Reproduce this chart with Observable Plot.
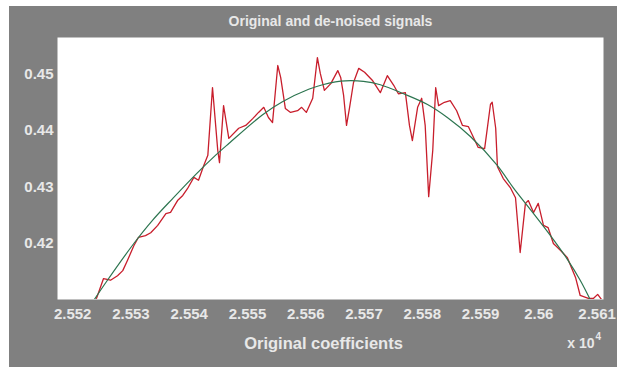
<!DOCTYPE html>
<html>
<head>
<meta charset="utf-8">
<script src="https://cdn.jsdelivr.net/npm/d3@7"></script>
<script src="https://cdn.jsdelivr.net/npm/@observablehq/plot@0.6"></script>
<style>
  html, body { margin: 0; padding: 0; background: #ffffff; }
  #fig { position: absolute; left: 9px; top: 6px; width: 608px; height: 361px; background: #808080; }
</style>
</head>
<body>
<div id="fig"></div>
<script>
// Tick positions and their printed labels (axis shown in units of 10^4)
const xTicks = [25520, 25530, 25540, 25550, 25560, 25570, 25580, 25590, 25600, 25610];
const xTickLabels = ["2.552", "2.553", "2.554", "2.555", "2.556", "2.557", "2.558", "2.559", "2.56", "2.561"];
const yTicks = [0.42, 0.43, 0.44, 0.45];
const yTickLabels = ["0.42", "0.43", "0.44", "0.45"];

// Original (noisy) signal
const noisyX = [
  25524.1, 25525.3, 25526.5, 25527.7, 25528.6, 25529.4, 25530.5, 25531.3, 25532.5, 25533.4,
  25534.6, 25536.0, 25536.8, 25538.0, 25538.9, 25539.7, 25540.8, 25541.6, 25542.5, 25543.2,
  25544.0, 25544.9, 25545.2, 25545.9, 25546.8, 25548.5, 25549.7, 25550.9, 25551.9, 25552.8,
  25553.6, 25554.3, 25555.2, 25555.7, 25556.5, 25557.4, 25558.6, 25559.3, 25560.1, 25561.2,
  25562.0, 25562.5, 25563.2, 25564.3, 25565.5, 25566.0, 25566.5, 25567.0, 25567.5, 25568.2,
  25569.1, 25570.1, 25571.5, 25572.8, 25574.0, 25575.1, 25575.9, 25577.1, 25577.8, 25578.3,
  25579.2, 25579.9, 25580.5, 25581.1, 25581.8, 25582.3, 25582.8, 25583.8, 25584.8, 25585.9,
  25586.9, 25587.9, 25589.6, 25590.7, 25591.7, 25592.0, 25592.6, 25592.9, 25593.9, 25595.1,
  25596.0, 25596.8, 25597.7, 25598.2, 25599.1, 25599.9, 25600.8, 25601.6, 25602.5, 25603.7,
  25604.9, 25606.3, 25607.1, 25608.5, 25609.4, 25610.1, 25610.9
];
const noisyY = [
  0.4103, 0.4138, 0.4135, 0.4143, 0.4152, 0.4170, 0.4196, 0.4211, 0.4214, 0.4219,
  0.4232, 0.4253, 0.4255, 0.4276, 0.4285, 0.4297, 0.4317, 0.4312, 0.4338, 0.4356,
  0.4476, 0.4365, 0.4343, 0.4444, 0.4386, 0.4404, 0.4409, 0.4421, 0.4432, 0.4441,
  0.4423, 0.4414, 0.4515, 0.4494, 0.4439, 0.4432, 0.4435, 0.4441, 0.4432, 0.4457,
  0.4529, 0.4501, 0.4471, 0.4483, 0.4506, 0.4494, 0.4462, 0.4409, 0.4439, 0.4485,
  0.4510, 0.4503, 0.4488, 0.4467, 0.4497, 0.4480, 0.4465, 0.4467, 0.4409, 0.4382,
  0.4441, 0.4457, 0.4409, 0.4283, 0.4365, 0.4476, 0.4444, 0.4450, 0.4453, 0.4435,
  0.4409, 0.4407, 0.4370, 0.4368, 0.4446, 0.4450, 0.4404, 0.4336, 0.4315, 0.4299,
  0.4281, 0.4184, 0.4271, 0.4276, 0.4255, 0.4271, 0.4232, 0.4228, 0.4200, 0.4188,
  0.4175, 0.4140, 0.4108, 0.4103, 0.4103, 0.4110, 0.4099
];

// De-noised signal
const smoothX = [
  25523.6, 25525.7, 25530.5, 25533.7, 25537.2, 25541.1, 25544.5, 25546.8, 25552.6, 25556.0,
  25560.5, 25562.9, 25565.1, 25566.8, 25569.9, 25572.8, 25576.8, 25580.9, 25584.3, 25588.3,
  25592.9, 25595.6, 25599.1, 25602.0, 25604.9, 25607.1, 25608.9
];
const smoothY = [
  0.4099, 0.4131, 0.4200, 0.4241, 0.4280, 0.4322, 0.4356, 0.4377, 0.4428, 0.4451,
  0.4473, 0.4481, 0.4486, 0.4488, 0.4487, 0.4481, 0.4465, 0.4446, 0.4423, 0.4389,
  0.4338, 0.4299, 0.4253, 0.4214, 0.4172, 0.4135, 0.4099
];

const noisy = noisyX.map((x, i) => ({x, y: noisyY[i]}));
const smooth = smoothX.map((x, i) => ({x, y: smoothY[i]}));

const textColor = "#e8e8e8";

const chart = Plot.plot({
  width: 608,
  height: 361,
  marginLeft: 48,
  marginRight: 14,
  marginTop: 31,
  marginBottom: 68,
  style: "background:#808080; font-family:'Liberation Sans', Arial, sans-serif; font-weight:bold; font-size:15px; color:" + textColor + ";",
  x: {
    domain: [25517.4, 25611.1],
    ticks: xTicks,
    tickFormat: d => xTickLabels[xTicks.indexOf(d)],
    tickSize: 0,
    tickPadding: 9,
    label: null
  },
  y: {
    domain: [0.41009, 0.45646],
    ticks: yTicks,
    tickFormat: d => yTickLabels[yTicks.indexOf(d)],
    tickSize: 0,
    tickPadding: 4,
    label: null
  },
  marks: [
    Plot.frame({fill: "#ffffff", stroke: null}),
    Plot.line(noisy, {x: "x", y: "y", stroke: "#c81e2c", strokeWidth: 1.3, clip: true}),
    Plot.line(smooth, {x: "x", y: "y", stroke: "#2d7550", strokeWidth: 1.2, curve: "catmull-rom", clip: true}),
    Plot.text(["Original and de-noised signals"], {text: d => d, frameAnchor: "top", dy: -21, fontSize: 14, fill: textColor}),
    Plot.text(["Original coefficients"], {text: d => d, frameAnchor: "bottom", dx: -7, dy: 49, fontSize: 16.5, fill: textColor}),
    Plot.text(["x 10"], {text: d => d, frameAnchor: "bottom-right", textAnchor: "end", dx: -9, dy: 48, fontSize: 14, fill: textColor}),
    Plot.text(["4"], {text: d => d, frameAnchor: "bottom-right", textAnchor: "start", dx: -8, dy: 40, fontSize: 10, fill: textColor})
  ]
});

document.getElementById("fig").appendChild(chart);
</script>
</body>
</html>
